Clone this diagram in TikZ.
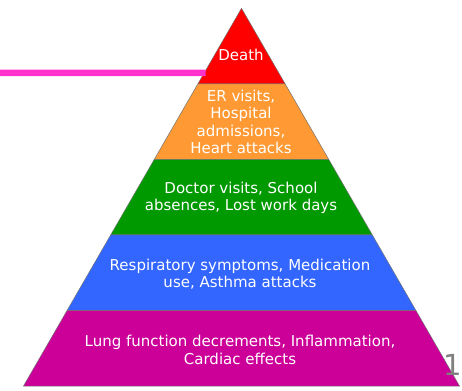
\documentclass[tikz,border=0pt]{standalone}
\usepackage{fontspec}
\setmainfont{DejaVu Sans}
\usetikzlibrary{calc}
\definecolor{deathred}{HTML}{FF0000}
\definecolor{visitorange}{HTML}{FF9933}
\definecolor{doctorgreen}{HTML}{009900}
\definecolor{symptblue}{HTML}{3366FF}
\definecolor{lungmagenta}{HTML}{CC0099}
\definecolor{markpink}{HTML}{FF33CC}
\begin{document}
\begin{tikzpicture}[x=1pt, y=-1pt,
    layer/.style={draw=black!55, line width=0.5pt, line join=miter},
    label/.style={text=white, align=center, font=\fontsize{15}{17.5}\selectfont}]
    \useasboundingbox (0,0) rectangle (462,390);

    % corners of the pyramid
    \coordinate (apex) at (241.5, 8.3);
    \coordinate (bl) at (23.5, 386);
    \coordinate (br) at (459.5, 386);
    \coordinate (l1) at ($(apex)!0.2!(bl)$);
    \coordinate (r1) at ($(apex)!0.2!(br)$);
    \coordinate (l2) at ($(apex)!0.4!(bl)$);
    \coordinate (r2) at ($(apex)!0.4!(br)$);
    \coordinate (l3) at ($(apex)!0.6!(bl)$);
    \coordinate (r3) at ($(apex)!0.6!(br)$);
    \coordinate (l4) at ($(apex)!0.8!(bl)$);
    \coordinate (r4) at ($(apex)!0.8!(br)$);

    \draw[layer, fill=deathred]    (apex) -- (r1) -- (l1) -- cycle;
    \draw[layer, fill=visitorange] (l1) -- (r1) -- (r2) -- (l2) -- cycle;
    \draw[layer, fill=doctorgreen] (l2) -- (r2) -- (r3) -- (l3) -- cycle;
    \draw[layer, fill=symptblue]   (l3) -- (r3) -- (r4) -- (l4) -- cycle;
    \draw[layer, fill=lungmagenta] (l4) -- (r4) -- (br) -- (bl) -- cycle;

    \node[label] (death) at (241, 55)  {Death};
    \node[label] (er)    at (241, 122) {ER visits,\\ Hospital\\ admissions,\\ Heart attacks};
    \node[label] (doc)   at (241, 198) {Doctor visits, School\\ absences, Lost work days};
    \node[label] (resp)  at (240, 274) {Respiratory symptoms, Medication\\ use, Asthma attacks};
    \node[label] (lung)  at (240, 350) {Lung function decrements, Inflammation,\\ Cardiac effects};

    % marker line into the top layer
    \coordinate (markstart) at (0, 73);
    \coordinate (markend) at ($($(apex)!0.1713!(bl)$) + (1.5,0)$);
    \draw[markpink, line width=6.5pt] (markstart) -- (markend);

    \node[text=black!50, font=\fontsize{29}{29}\selectfont, anchor=base east,
          inner sep=0pt] (pagenum) at (462, 375) {1};
\end{tikzpicture}
\end{document}
